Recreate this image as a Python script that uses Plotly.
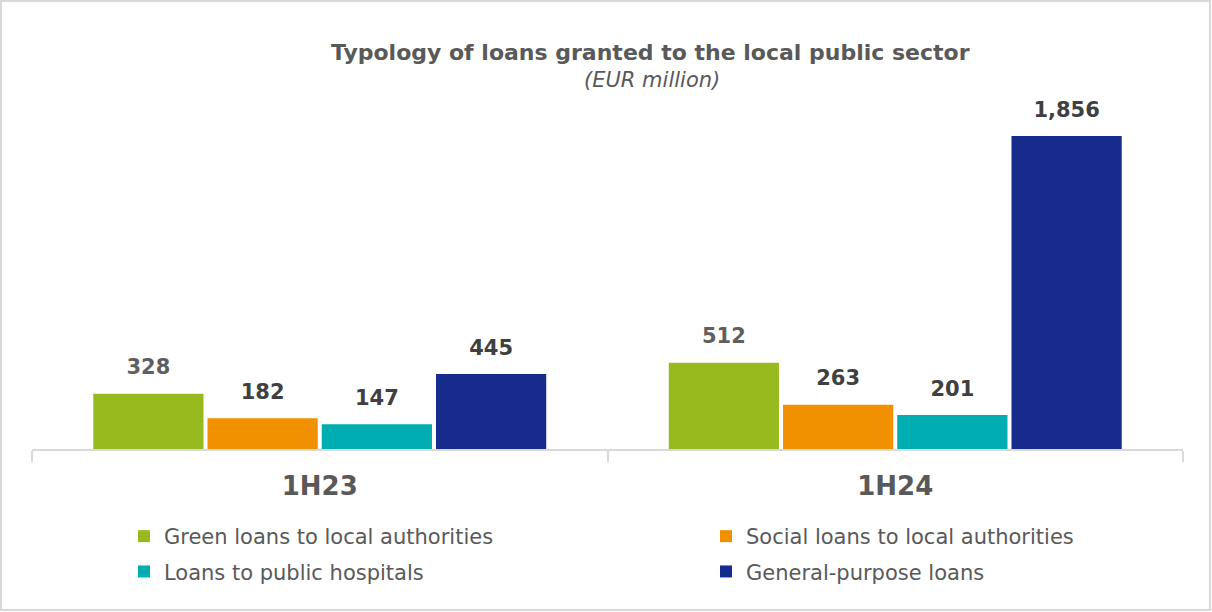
import plotly.graph_objects as go

periods = ["1H23", "1H24"]
series_names = [
    "Green loans to local authorities",
    "Social loans to local authorities",
    "Loans to public hospitals",
    "General-purpose loans",
]
green = [328, 512]
social = [182, 263]
hospitals = [147, 201]
general = [445, 1856]

values = [green, social, hospitals, general]
colors = ["#97BB1F", "#F19100", "#00AEB2", "#162B8B"]
label_colors = ["#5F5F5F", "#404040", "#404040", "#404040"]
legend_ids = ["legend", "legend2", "legend", "legend2"]

FONT = "DejaVu Sans"
W, H = 1212, 612
ML, MR, MT, MB = 32, 29, 100, 163
PW = W - ML - MR
PH = H - MT - MB

fig = go.Figure()
for i, (name, vals) in enumerate(zip(series_names, values)):
    fig.add_trace(go.Bar(
        x=periods, y=vals, name=name,
        marker=dict(color=colors[i], line=dict(width=0)),
        offsetgroup=str(i), legendgroup=name, legend=legend_ids[i],
    ))
for i, vals in enumerate(values):
    fig.add_trace(go.Scatter(
        x=periods, y=vals, mode="text+markers", showlegend=False,
        marker=dict(size=21, opacity=0),
        text=[f"{v:,}" for v in vals], textposition="top center",
        textfont=dict(family=FONT, size=21, color=label_colors[i], weight="bold"),
        offsetgroup=str(i), hoverinfo="skip", cliponaxis=False,
    ))

def px_x(px):
    return (px - ML) / PW

def px_y(py):
    return (H - MB - py) / PH

fig.update_layout(
    width=W, height=H,
    margin=dict(l=ML, r=MR, t=MT, b=MB),
    paper_bgcolor="white", plot_bgcolor="white",
    barmode="group", bargap=0.206, bargroupgap=0.035,
    scattermode="group", scattergap=0.206,
    font=dict(family=FONT, color="#595959"),
    xaxis=dict(
        type="category", showline=True, linecolor="#D9D9D9", linewidth=1.5,
        ticks="outside", tickson="boundaries", ticklen=11, tickcolor="#D9D9D9",
        tickwidth=1.5, ticklabelstandoff=13,
        tickfont=dict(family=FONT, size=26, color="#595959", weight="bold"),
        showgrid=False, zeroline=False,
    ),
    yaxis=dict(range=[0, 2070], visible=False, showgrid=False, zeroline=False),
    legend=dict(
        x=px_x(124), y=px_y(516), xanchor="left", yanchor="top",
        orientation="v", font=dict(family=FONT, size=21, color="#595959"),
        tracegroupgap=5, bgcolor="rgba(0,0,0,0)",
    ),
    legend2=dict(
        x=px_x(706), y=px_y(516), xanchor="left", yanchor="top",
        orientation="v", font=dict(family=FONT, size=21, color="#595959"),
        tracegroupgap=5, bgcolor="rgba(0,0,0,0)",
    ),
    annotations=[
        dict(text="<b>Typology of loans granted to the local public sector</b>",
             xref="paper", yref="paper", x=px_x(651), y=px_y(52),
             xanchor="center", yanchor="middle", showarrow=False,
             font=dict(family=FONT, size=22, color="#595959")),
        dict(text="<i>(EUR million)</i>",
             xref="paper", yref="paper", x=px_x(652), y=px_y(80),
             xanchor="center", yanchor="middle", showarrow=False,
             font=dict(family=FONT, size=21, color="#595959")),
    ],
    shapes=[
        dict(type="rect", xref="paper", yref="paper",
             x0=px_x(1), x1=px_x(W - 2), y0=px_y(H - 2), y1=px_y(1),
             line=dict(color="#D9D9D9", width=2), fillcolor="rgba(0,0,0,0)"),
    ],
)

fig.write_html(
    "out.html",
    config={"displayModeBar": False},
    post_script="document.body.style.margin='0';document.body.style.overflow='hidden';",
)
